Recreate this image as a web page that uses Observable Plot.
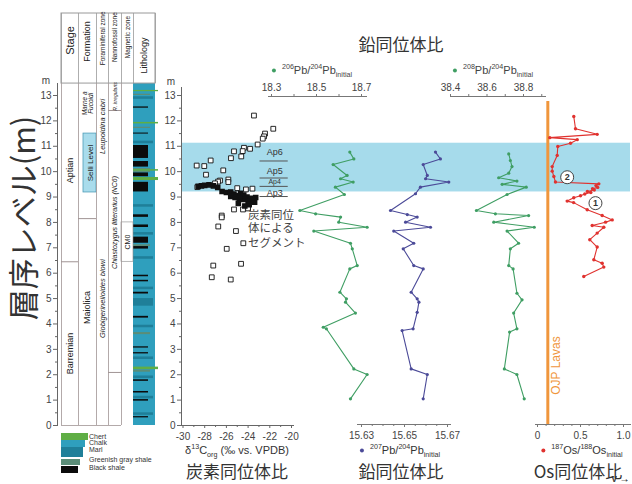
<!DOCTYPE html>
<html><head><meta charset="utf-8">
<script src="https://cdn.jsdelivr.net/npm/d3@7"></script>
<script src="https://cdn.jsdelivr.net/npm/@observablehq/plot@0.6"></script>
<style>
body{margin:0;background:#fff;}
#chart{position:relative;width:632px;height:484px;overflow:hidden;font-family:'Liberation Sans',Arial,sans-serif;color:#333;}
#chart svg{position:absolute;left:0;top:0;}
.lb{position:absolute;white-space:nowrap;line-height:1;transform:translate(-50%,-50%);}
sup,sub{font-size:65%;line-height:0;}
</style></head>
<body><div id="chart"></div>
<script>
// ---------------- data ----------------
const carbonOpen = [
 [-23.46,12.21],[-21.68,11.69],[-22.44,11.5],[-22.53,11.39],[-22.65,11.3],[-23.12,11.07],[-23.82,10.9],
 [-24.38,10.94],[-24.5,10.81],[-25.3,10.8],[-24.63,10.6],[-25.58,10.53],[-27.45,10.44],[-28.74,10.24],
 [-28.04,10.22],[-26.29,10.05],[-27.88,9.88],[-26.59,9.65],[-25.82,9.69],[-25.82,9.59],[-26.77,9.61],
 [-27.05,9.54],[-28.68,9.39],[-25.0,9.35],[-24.2,9.3],[-23.6,9.33],[-25.3,8.51],[-24.47,8.51],[-24.0,8.55],
 [-26.43,8.27],[-26.43,8.2],[-26.75,7.84],[-25.12,7.66],[-24.44,7.18],[-25.97,6.96],[-24.65,6.37],
 [-27.21,6.3],[-27.35,5.84],[-25.6,5.75]
];
const carbonFilled = [
 [-28.6,9.42],[-28.3,9.44],[-28.0,9.46],[-27.6,9.48],[-27.2,9.44],[-26.8,9.38],[-26.4,9.22],[-26.0,9.18],
 [-25.6,9.2],[-25.3,9.12],[-25.0,9.05],[-24.7,9.15],[-24.4,9.08],[-24.1,9.0],[-23.8,8.95],[-23.5,8.92],
 [-23.3,8.98],[-23.6,8.85],[-24.0,8.82],[-24.4,8.9],[-24.8,8.95],[-25.2,8.98],[-23.9,8.7],[-24.3,8.65],
 [-24.9,8.75],[-23.4,8.8],[-25.6,9.02]
];
const apSegments = [
 {label:"Ap6", m:10.42, lm:10.78, size:9},
 {label:"Ap5", m:9.75, lm:10.02, size:9},
 {label:"Ap4", m:9.42, lm:9.59, size:7},
 {label:"Ap3", m:9.02, lm:9.17, size:9}
];
const segmentText = ["炭素同位", "体による", "セグメント"];
const segmentTextM = [8.29, 7.76, 7.16];

const pb206 = [
 [18.648,10.77],[18.666,10.5],[18.574,10.28],[18.636,9.85],[18.607,9.72],[18.663,9.59],[18.584,9.39],
 [18.624,9.1],[18.426,8.47],[18.496,8.34],[18.607,8.21],[18.599,8.01],[18.725,7.81],[18.488,7.66],
 [18.651,7.18],[18.659,6.96],[18.681,6.3],[18.648,6.17],[18.604,5.25],[18.633,4.99],[18.629,4.86],
 [18.673,4.43],[18.530,3.87],[18.544,3.81],[18.666,2.23],[18.725,2.01],[18.651,1.05]
];
const pb207 = [
 [15.6644,10.77],[15.6667,10.5],[15.6587,10.28],[15.6606,9.85],[15.6598,9.72],[15.6706,9.59],[15.6574,9.39],
 [15.6551,9.13],[15.6435,8.47],[15.6513,8.31],[15.6559,8.21],[15.6505,8.01],[15.6621,7.81],[15.645,7.66],
 [15.6543,7.18],[15.6494,6.96],[15.6543,6.3],[15.6587,6.17],[15.6531,5.25],[15.6559,4.99],[15.6567,4.86],
 [15.6559,4.46],[15.654,3.81],[15.6489,3.74],[15.6531,2.23],[15.6606,2.01],[15.6587,1.05]
];
const pb208 = [
 [38.719,10.7],[38.728,10.44],[38.737,10.2],[38.719,9.94],[38.664,9.76],[38.764,9.63],[38.683,9.5],
 [38.815,9.39],[38.71,9.1],[38.542,8.47],[38.646,8.34],[38.828,8.27],[38.637,8.01],[38.859,7.81],
 [38.71,7.66],[38.773,7.18],[38.728,6.96],[38.719,6.3],[38.743,6.17],[38.764,5.21],[38.792,4.95],
 [38.746,4.43],[38.764,3.81],[38.724,3.68],[38.695,2.23],[38.764,2.01],[38.804,1.05]
];
const os = [
 [0.422,12.17],[0.442,11.69],[0.694,11.47],[0.143,11.34],[0.462,11.26],[0.384,11.12],[0.236,10.99],
 [0.229,10.64],[0.171,10.2],[0.171,10.02],[0.19,9.81],[0.209,9.59],[0.713,9.52],[0.68,9.45],[0.70,9.38],
 [0.64,9.33],[0.66,9.28],[0.58,9.22],[0.62,9.18],[0.55,9.12],[0.5,9.05],[0.422,8.97],[0.345,8.84],
 [0.42,8.78],[0.578,8.5],[0.752,8.27],[0.869,8.1],[0.791,8.01],[0.636,7.88],[0.771,7.81],[0.694,7.58],
 [0.608,7.32],[0.694,7.03],[0.655,6.53],[0.752,6.39],[0.771,6.24],[0.538,5.87]
];
const osMarkers = [{t:"2", v:0.345, m:9.78}, {t:"1", v:0.674, m:8.76}];
const ojpValue = 0.12;
const selliBand = [{m1:9.2, m2:11.12}];

const mTicks = d3.range(0, 14);
const mMinor = d3.range(0.5, 13.5, 1);
const cTicks = [-30,-28,-26,-24,-22,-20];
const cMinor = [-29,-27,-25,-23,-21];
const pb206Ticks = [18.3,18.5,18.7];
const pb206Minor = [18.4,18.6];
const pb208Ticks = [38.4,38.6,38.8];
const pb208Minor = [38.5,38.7,38.9];
const pb207Ticks = [15.63,15.65,15.67];
const pb207Minor = [15.635,15.64,15.645,15.655,15.66,15.665];
const osTicks = [0,0.5,1.0];
const osMinor = [0.1,0.2,0.3,0.4,0.6,0.7,0.8,0.9];

// stratigraphy
const stages = [{name:"Aptian", m:10.05, b:6.45}, {name:"Barremian", m:2.84}];
const formations = [{name:"Maiolica", m:4.65}];
const formationBoundary = [8.15];
const marneLines = ["Marne a", "Fucoidi"];
const selliBox = [{m1:9.18, m2:11.5, name:"Selli Level", m:10.34}];
const foraminiferal = [{name:"Leupoldina cabri", m:11.78}, {name:"Globigerinelloides blowi", m:5.0}];
const nannofossil = [{name:"R. irregularis", m:12.96, size:5}, {name:"Chiastozygus litterarius (NC6)", m:8.0, size:7}];
const nannoBoundaries = [12.41, 2.09];
const magnetic = [{m1:8.0, m2:13.47, pol:"N"}, {m1:6.45, m2:8.0, pol:"R", name:"CM0"}, {m1:0, m2:6.45, pol:"N"}];
const lithology = [
 ["chalk",0,13.47],
 ["marl",0.4,0.5],["black",0.3,0.35],["black",0.96,1.02],["marl",1.05,1.15],["black",1.28,1.34],
 ["black",1.74,1.8],["marl",1.85,1.95],["greenish",2.1,2.18],["chert",2.2,2.3],["marl",2.6,2.7],
 ["black",2.82,2.87],["black",3.05,3.1],["greenish",3.58,3.66],["marl",3.85,3.95],["black",4.23,4.3],
 ["marl",4.7,5.0],["black",5.18,5.25],["marl",5.35,5.45],["black",5.66,5.72],["black",5.86,5.92],
 ["marl",6.55,6.65],["black",6.95,7.05],["greenish",7.05,7.12],["black",7.18,7.42],["marl",7.5,7.6],
 ["black",7.8,7.9],["black",8.2,8.3],["marl",8.6,8.7],["black",9.2,9.58],["chert",9.65,9.77],
 ["black",9.8,9.95],["greenish",9.97,10.12],["chert",10.02,10.08],["black",10.18,10.4],["black",10.52,11.03],
 ["marl",11.1,11.2],["black",11.48,11.52],["greenish",11.7,11.75],["chert",11.88,11.94],["black",12.5,12.55],
 ["marl",12.85,12.95],["greenish",13.0,13.05],["chert",13.15,13.2]
];
const lithLegend = [["chert","Chert"],["chalk","Chalk"],["marl","Marl"],["greenish","Greenish gray shale"],["black","Black shale"]];
const headers = [
 {name:"Stage", c:8.5, m:15.17, size:11, bold:true},
 {name:"Formation", c:26, m:15.13, size:9},
 {name:"Foraminiferal zone", c:41, m:15.25, size:6.5},
 {name:"Nannofossil zone", c:53.5, m:15.3, size:6.5},
 {name:"Magnetic zone", c:66, m:15.3, size:6.5},
 {name:"Lithology", c:83, m:14.58, size:9}
];

// ---------------- styles/layout ----------------
const lithColor = {chert:"#5fae45", chalk:"#2f9fbd", marl:"#1f7f99", greenish:"#5b8d78", black:"#0b0b0b"};
const lithWidth = {chert:25, chalk:22, marl:20, greenish:17, black:15};
const colEdges = [0,17,35,47,60,72,94];
const green = "#3f9e63", navy = "#4b4a98", red = "#e0322f", orange = "#f0963c", band = "#a6dbeb";
const FONT = "'Liberation Sans', Arial, sans-serif";
const JP = "'Noto Sans CJK JP', sans-serif";
const W = 632, H = 484;
const Yscale = {domain:[0,13], range:[425,95], axis:null};
const chart = document.getElementById("chart");

function add(opts) {
  const svg = Plot.plot(Object.assign({
    width: W, height: H,
    y: Yscale,
    style: {background:"transparent", fontFamily: FONT, fontSize: "10px", color: "#444", overflow: "visible"}
  }, opts));
  chart.appendChild(svg);
}
function label(html, x, y, css) {
  const d = document.createElement("div");
  d.className = "lb";
  d.innerHTML = html;
  d.style.left = x + "px"; d.style.top = y + "px";
  if (css) d.style.cssText += css;
  chart.appendChild(d);
  return d;
}

// band
add({
  marginLeft: 0, marginRight: 0, marginTop: 0, marginBottom: 0,
  x: {domain:[0,1], range:[181,630], axis:null},
  marks: [Plot.rect(selliBand, {x1: () => 0, x2: () => 1, y1: "m1", y2: "m2", fill: band})]
});

// stratigraphic column
add({
  marginLeft: 57, marginRight: 0, marginTop: 83, marginBottom: 59,
  x: {domain:[0,94], range:[61,155], axis:null},
  marks: [
    Plot.rect(lithology, {x1: () => 72, x2: d => 72 + lithWidth[d[0]], y1: d => d[1], y2: d => d[2], fill: d => lithColor[d[0]]}),
    Plot.rect(magnetic, {x1: () => 60, x2: () => 72, y1: "m1", y2: "m2", fill: d => d.pol === "N" ? "#000" : "#fff", stroke: d => d.pol === "N" ? null : "#888", strokeWidth: 0.6}),
    Plot.text(magnetic.filter(d => d.name), {x: () => 66, y: d => (d.m1 + d.m2) / 2, text: "name", rotate: -90, fontSize: 7, fill: "#222"}),
    Plot.rect(selliBox, {x1: () => 22, x2: () => 35, y1: "m1", y2: "m2", fill: "#a9dcec", stroke: "#4f9db8", strokeWidth: 0.8}),
    Plot.text(selliBox, {x: () => 28.5, y: "m", text: "name", rotate: -90, fontSize: 8, fill: "#222"}),
    Plot.rect([0], {x1: () => 0, x2: () => 94, y1: () => 13.47, y2: () => 16.23, stroke: "#999", fill: "none"}),
    Plot.ruleX(colEdges, {y1: () => 13.47, y2: () => 16.23, stroke: "#999", strokeWidth: 0.8}),
    Plot.ruleX(colEdges.slice(0,5), {y1: () => 0, y2: () => 13.47, stroke: "#a09494", strokeWidth: 0.8}),
    Plot.ruleY([0], {x1: () => 0, x2: () => 60, stroke: "#a09494", strokeWidth: 0.8}),
    Plot.ruleY([stages[0].b], {x1: () => 0, x2: () => 17, stroke: "#a09494"}),
    Plot.ruleY(formationBoundary, {x1: () => 17, x2: () => 35, stroke: "#a09494"}),
    Plot.ruleY(nannoBoundaries, {x1: () => 47, x2: () => 60, stroke: "#a09494"}),
    Plot.text(headers, {x: "c", y: "m", text: "name", rotate: -90, fontSize: d => d.size, fontWeight: d => d.bold ? "bold" : "normal", fill: "#222"}),
    Plot.text(stages, {x: () => 8.5, y: "m", text: "name", rotate: -90, fontSize: 9, fill: "#222"}),
    Plot.text(formations, {x: () => 26, y: "m", text: "name", rotate: -90, fontSize: 9, fill: "#222"}),
    Plot.text(marneLines, {x: (d, i) => 23.5 + i * 6, y: () => 12.69, text: d => d, rotate: -90, fontSize: 6.5, fontStyle: "italic", fill: "#222"}),
    Plot.text(foraminiferal, {x: () => 41, y: "m", text: "name", rotate: -90, fontSize: 7.5, fontStyle: "italic", fill: "#222"}),
    Plot.text(nannofossil, {x: () => 53.5, y: "m", text: "name", rotate: -90, fontSize: d => d.size, fontStyle: "italic", fill: "#222"}),
    Plot.frame({anchor: "left", stroke: "#666"}),
    Plot.axisY({anchor: "left", ticks: mTicks, tickSize: 4, tickPadding: 2, fontSize: 10, stroke: "#666"}),
    Plot.axisY({anchor: "left", ticks: mMinor, tickSize: 2, tickFormat: () => "", stroke: "#666"})
  ]
});

// carbon isotope panel
add({
  marginLeft: 181, marginRight: 339, marginTop: 87, marginBottom: 59,
  x: {domain:[-30,-20], range:[182.5,291], axis:null},
  marks: [
    Plot.dot(carbonOpen, {x: d => d[0], y: d => d[1], symbol: "square", r: 2.7, stroke: "#111", strokeWidth: 0.9, fill: "#fff"}),
    Plot.dot(carbonFilled, {x: d => d[0], y: d => d[1], symbol: "square", r: 2.3, stroke: "#111", fill: "#111"}),
    Plot.ruleY(apSegments, {y: "m", x1: () => -22.9, x2: () => -20.3, stroke: "#555", strokeWidth: 1}),
    Plot.text(apSegments, {x: () => -21.55, y: "lm", text: "label", fontSize: d => d.size, fill: "#333"}),
    Plot.text(segmentText, {x: () => -24.0, y: (d, i) => segmentTextM[i], text: d => d, textAnchor: "start", fontSize: 11.5, fontFamily: JP, fill: "#444"}),
    Plot.frame({anchor: "left", stroke: "#666"}),
    Plot.frame({anchor: "bottom", stroke: "#666"}),
    Plot.axisY({anchor: "left", ticks: mTicks, tickSize: 4, tickPadding: 2, fontSize: 10, stroke: "#666"}),
    Plot.axisY({anchor: "left", ticks: mMinor, tickSize: 2, tickFormat: () => "", stroke: "#666"}),
    Plot.axisX({anchor: "bottom", ticks: cTicks, tickSize: 3, tickPadding: 4, fontSize: 10, tickFormat: d => String(d), stroke: "#666"}),
    Plot.axisX({anchor: "bottom", ticks: cMinor, tickSize: 2, tickFormat: () => "", stroke: "#666"})
  ]
});

// 206Pb/204Pb (top axis)
add({
  marginLeft: 268, marginRight: 266, marginTop: 96, marginBottom: 59,
  x: {domain:[18.3,18.7], range:[271,361], axis:null},
  marks: [
    Plot.line(pb206, {x: d => d[0], y: d => d[1], stroke: green, strokeWidth: 1.1}),
    Plot.dot(pb206, {x: d => d[0], y: d => d[1], r: 1.6, fill: green}),
    Plot.frame({anchor: "top", stroke: "#777"}),
    Plot.axisX({anchor: "top", ticks: pb206Ticks, tickSize: 3, tickPadding: 3, fontSize: 10, tickFormat: d3.format(".1f"), stroke: "#777"}),
    Plot.axisX({anchor: "top", ticks: pb206Minor, tickSize: 3, tickFormat: () => "", stroke: "#777"})
  ]
});

// 207Pb/204Pb (bottom axis)
add({
  marginLeft: 357, marginRight: 182, marginTop: 87, marginBottom: 60,
  x: {domain:[15.63,15.67], range:[361,447], axis:null},
  marks: [
    Plot.line(pb207, {x: d => d[0], y: d => d[1], stroke: navy, strokeWidth: 1.1}),
    Plot.dot(pb207, {x: d => d[0], y: d => d[1], r: 1.6, fill: navy}),
    Plot.frame({anchor: "bottom", stroke: "#777"}),
    Plot.axisX({anchor: "bottom", ticks: pb207Ticks, tickSize: 3, tickPadding: 4, fontSize: 10, tickFormat: d3.format(".2f"), stroke: "#777"}),
    Plot.axisX({anchor: "bottom", ticks: pb207Minor, tickSize: 2, tickFormat: () => "", stroke: "#777"})
  ]
});

// 208Pb/204Pb (top axis)
add({
  marginLeft: 450, marginRight: 87, marginTop: 96, marginBottom: 59,
  x: {domain:[38.4,38.8], range:[450,523], axis:null},
  marks: [
    Plot.line(pb208, {x: d => d[0], y: d => d[1], stroke: green, strokeWidth: 1.1}),
    Plot.dot(pb208, {x: d => d[0], y: d => d[1], r: 1.6, fill: green}),
    Plot.frame({anchor: "top", stroke: "#777"}),
    Plot.axisX({anchor: "top", ticks: pb208Ticks, tickSize: 3, tickPadding: 3, fontSize: 10, tickFormat: d3.format(".1f"), stroke: "#777"}),
    Plot.axisX({anchor: "top", ticks: pb208Minor, tickSize: 3, tickFormat: () => "", stroke: "#777"})
  ]
});

// Os panel
add({
  marginLeft: 535, marginRight: 2, marginTop: 101, marginBottom: 60,
  x: {domain:[0,1], range:[537,623], axis:null},
  marks: [
    Plot.ruleX([ojpValue], {stroke: orange, strokeWidth: 3}),
    Plot.text(["OJP Lavas"], {x: () => 0.215, y: () => 2.36, text: d => d, rotate: -90, fontSize: 12, fill: orange}),
    Plot.line(os, {x: d => d[0], y: d => d[1], stroke: red, strokeWidth: 1.1}),
    Plot.dot(os, {x: d => d[0], y: d => d[1], r: 1.7, fill: red}),
    Plot.dot(osMarkers, {x: "v", y: "m", r: 6.5, stroke: "#444", strokeWidth: 1, fill: "#fff"}),
    Plot.text(osMarkers, {x: "v", y: "m", text: "t", fontSize: 9, fontWeight: "bold", fill: "#333"}),
    Plot.frame({anchor: "bottom", stroke: "#777"}),
    Plot.axisX({anchor: "bottom", ticks: osTicks, tickSize: 3, tickPadding: 4, fontSize: 10, tickFormat: d => d === 0 ? "0" : d3.format(".1f")(d), stroke: "#777"}),
    Plot.axisX({anchor: "bottom", ticks: osMinor, tickSize: 2, tickFormat: () => "", stroke: "#777"})
  ]
});

// ---------------- html texts ----------------
const dot = c => `<span style="display:inline-block;width:4px;height:4px;border-radius:50%;background:${c};vertical-align:middle;margin-right:6px"></span>`;
label("鉛同位体比", 401, 43, "font-family:" + JP + ";font-size:17px;color:#333");
label(dot(green) + "<sup>206</sup>Pb/<sup>204</sup>Pb<sub>initial</sub>", 312, 70, "font-size:11px;color:#444");
label(dot(green) + "<sup>208</sup>Pb/<sup>204</sup>Pb<sub>initial</sub>", 493, 70, "font-size:11px;color:#444");
label("m", 46, 81, "font-size:10px;color:#444");
label("m", 171, 82, "font-size:10px;color:#444");
label("δ<sup>13</sup>C<sub>org</sub> (‰ vs. VPDB)", 237, 450, "font-size:11px;color:#333");
label(dot(navy) + "<sup>207</sup>Pb/<sup>204</sup>Pb<sub>initial</sub>", 400, 450, "font-size:11px;color:#333");
label(dot(red) + "<sup>187</sup>Os/<sup>188</sup>Os<sub>initial</sub>", 582, 450, "font-size:11px;color:#333");
label("炭素同位体比", 237, 470, "font-family:" + JP + ";font-size:17px;color:#333");
label("鉛同位体比", 401, 470, "font-family:" + JP + ";font-size:17px;color:#333");
label("Os同位体比", 578, 470, "font-family:" + JP + ";font-size:17px;color:#333");
label("層序レベル(m)", 21, 218, "font-family:" + JP + ";font-size:31px;color:#333;transform:translate(-50%,-50%) rotate(-90deg)");

// lithology legend
const legendTop = [433, 439.5, 447, 458.5, 466];
const legendH = [6.5, 7.5, 9.5, 6.5, 7];
const legendTextTop = [432.5, 439.2, 446.2, 455.5, 463.5];
lithLegend.forEach(([k, name], i) => {
  const s = document.createElement("div");
  s.style.cssText = `position:absolute;left:61px;top:${legendTop[i]}px;width:${lithWidth[k] + 2}px;height:${legendH[i]}px;background:${lithColor[k]}`;
  chart.appendChild(s);
  const t = document.createElement("div");
  t.style.cssText = `position:absolute;left:89px;top:${legendTextTop[i]}px;font-size:7px;line-height:1;color:#333;white-space:nowrap`;
  t.textContent = name;
  chart.appendChild(t);
});
</script>
</body></html>
